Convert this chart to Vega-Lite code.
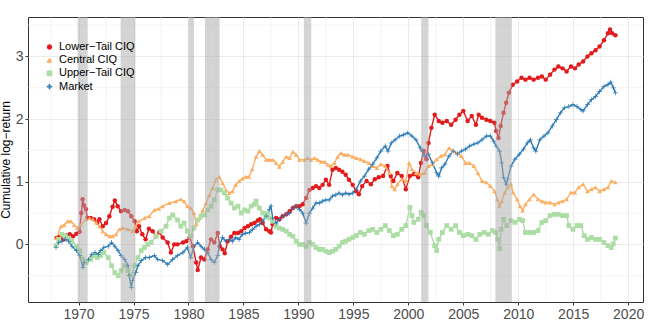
{
"$schema":"https://vega.github.io/schema/vega-lite/v6.json",
"width":615,"height":285,"autosize":"none",
"padding":{"left":28,"top":17,"right":5,"bottom":22},
"background":"white",
"config":{"view":{"stroke":"#333333","strokeWidth":1},"font":"Liberation Sans",
"axis":{"domain":false,"gridColor":"#ebebeb","gridWidth":1,"tickColor":"#333333","tickSize":3,"labelColor":"#4d4d4d","labelFontSize":14,"labelPadding":2,"titleFontWeight":"normal","titleColor":"#000000","titleFontSize":12,"titlePadding":3},
"legend":{"orient":"none","legendX":16,"legendY":24.5,"labelFontSize":11,"labelColor":"#000000","symbolSize":25,"rowPadding":1.2,"labelOffset":4,"symbolOffset":0,"padding":0,"symbolStrokeWidth":1}},
"datasets":{
"gx":[{"g":1967.5},{"g":1972.5},{"g":1977.5},{"g":1982.5},{"g":1987.5},{"g":1992.5},{"g":1997.5},{"g":2002.5},{"g":2007.5},{"g":2012.5},{"g":2017.5}],
"gy":[{"g":-0.5},{"g":0.5},{"g":1.5},{"g":2.5},{"g":3.5}],
"r":[{"a":1969.92,"b":1970.83},{"a":1973.83,"b":1975.17},{"a":1980.0,"b":1980.5},{"a":1981.5,"b":1982.83},{"a":1990.5,"b":1991.17},{"a":2001.17,"b":2001.83},{"a":2007.92,"b":2009.42}],
"s":[
{"t":1968.0,"k":"L","v":0.10},{"t":1968.3,"k":"L","v":0.12},{"t":1968.6,"k":"L","v":0.08},{"t":1968.9,"k":"L","v":0.14},{"t":1969.2,"k":"L","v":0.16},{"t":1969.5,"k":"L","v":0.13},{"t":1969.8,"k":"L","v":0.17},{"t":1970.1,"k":"L","v":0.2},{"t":1970.25,"k":"L","v":0.5},{"t":1970.37,"k":"L","v":0.72},{"t":1970.5,"k":"L","v":0.62},{"t":1970.67,"k":"L","v":0.56},{"t":1970.8,"k":"L","v":0.42},{"t":1971.1,"k":"L","v":0.42},{"t":1971.4,"k":"L","v":0.40},{"t":1971.7,"k":"L","v":0.35},{"t":1971.9,"k":"L","v":0.40},{"t":1972.2,"k":"L","v":0.29},{"t":1972.5,"k":"L","v":0.34},{"t":1972.8,"k":"L","v":0.45},{"t":1973.1,"k":"L","v":0.60},{"t":1973.3,"k":"L","v":0.70},{"t":1973.56,"k":"L","v":0.61},{"t":1973.87,"k":"L","v":0.53},{"t":1974.2,"k":"L","v":0.55},{"t":1974.5,"k":"L","v":0.53},{"t":1974.8,"k":"L","v":0.45},{"t":1975.1,"k":"L","v":0.37},{"t":1975.3,"k":"L","v":0.21},{"t":1975.5,"k":"L","v":0.29},{"t":1975.8,"k":"L","v":0.16},{"t":1976.1,"k":"L","v":0.08},{"t":1976.4,"k":"L","v":0.25},{"t":1976.74,"k":"L","v":0.21},{"t":1977.05,"k":"L","v":0.13},{"t":1977.35,"k":"L","v":0.19},{"t":1977.65,"k":"L","v":0.11},{"t":1978.1,"k":"L","v":0.03},{"t":1978.4,"k":"L","v":-0.13},{"t":1978.7,"k":"L","v":0.0},{"t":1979.0,"k":"L","v":0.0},{"t":1979.5,"k":"L","v":0.03},{"t":1979.8,"k":"L","v":0.05},{"t":1980.1,"k":"L","v":0.11},{"t":1980.4,"k":"L","v":-0.03},{"t":1980.7,"k":"L","v":-0.29},{"t":1980.84,"k":"L","v":-0.41},{"t":1981.14,"k":"L","v":-0.21},{"t":1981.45,"k":"L","v":-0.24},{"t":1981.75,"k":"L","v":-0.08},{"t":1982.05,"k":"L","v":0.08},{"t":1982.35,"k":"L","v":0.03},{"t":1982.66,"k":"L","v":0.18},{"t":1982.85,"k":"L","v":-0.03},{"t":1983.1,"k":"L","v":-0.08},{"t":1983.3,"k":"L","v":-0.14},{"t":1983.57,"k":"L","v":0.05},{"t":1983.87,"k":"L","v":0.12},{"t":1984.17,"k":"L","v":0.18},{"t":1984.5,"k":"L","v":0.18},{"t":1984.8,"k":"L","v":0.21},{"t":1985.1,"k":"L","v":0.26},{"t":1985.4,"k":"L","v":0.29},{"t":1985.7,"k":"L","v":0.32},{"t":1986.0,"k":"L","v":0.34},{"t":1986.3,"k":"L","v":0.38},{"t":1986.5,"k":"L","v":0.40},{"t":1986.75,"k":"L","v":0.34},{"t":1987.06,"k":"L","v":0.24},{"t":1987.36,"k":"L","v":0.21},{"t":1987.5,"k":"L","v":0.19},{"t":1987.66,"k":"L","v":0.32},{"t":1987.97,"k":"L","v":0.42},{"t":1988.27,"k":"L","v":0.40},{"t":1988.57,"k":"L","v":0.45},{"t":1988.9,"k":"L","v":0.48},{"t":1989.2,"k":"L","v":0.53},{"t":1989.5,"k":"L","v":0.58},{"t":1989.8,"k":"L","v":0.61},{"t":1990.1,"k":"L","v":0.61},{"t":1990.4,"k":"L","v":0.64},{"t":1990.7,"k":"L","v":0.74},{"t":1991.0,"k":"L","v":0.87},{"t":1991.3,"k":"L","v":0.90},{"t":1991.6,"k":"L","v":0.93},{"t":1991.9,"k":"L","v":0.90},{"t":1992.2,"k":"L","v":0.95},{"t":1992.5,"k":"L","v":1.03},{"t":1992.8,"k":"L","v":0.95},{"t":1993.1,"k":"L","v":1.19},{"t":1993.4,"k":"L","v":1.22},{"t":1993.7,"k":"L","v":1.19},{"t":1994.0,"k":"L","v":1.16},{"t":1994.3,"k":"L","v":1.11},{"t":1994.6,"k":"L","v":1.03},{"t":1994.94,"k":"L","v":0.95},{"t":1995.26,"k":"L","v":0.85},{"t":1995.5,"k":"L","v":0.80},{"t":1995.8,"k":"L","v":0.93},{"t":1996.2,"k":"L","v":1.01},{"t":1996.6,"k":"L","v":0.96},{"t":1996.95,"k":"L","v":1.04},{"t":1997.3,"k":"L","v":1.07},{"t":1997.7,"k":"L","v":1.09},{"t":1998.1,"k":"L","v":1.25},{"t":1998.4,"k":"L","v":1.09},{"t":1998.64,"k":"L","v":1.01},{"t":1999.0,"k":"L","v":1.14},{"t":1999.4,"k":"L","v":1.09},{"t":1999.77,"k":"L","v":0.88},{"t":2000.14,"k":"L","v":1.09},{"t":2000.5,"k":"L","v":1.12},{"t":2000.9,"k":"L","v":1.07},{"t":2001.16,"k":"L","v":1.30},{"t":2001.4,"k":"L","v":1.49},{"t":2001.65,"k":"L","v":1.36},{"t":2001.83,"k":"L","v":1.62},{"t":2002.1,"k":"L","v":1.86},{"t":2002.4,"k":"L","v":2.07},{"t":2002.77,"k":"L","v":1.97},{"t":2003.1,"k":"L","v":1.94},{"t":2003.5,"k":"L","v":1.97},{"t":2003.9,"k":"L","v":1.91},{"t":2004.3,"k":"L","v":1.99},{"t":2004.65,"k":"L","v":2.07},{"t":2005.0,"k":"L","v":2.13},{"t":2005.4,"k":"L","v":1.97},{"t":2005.77,"k":"L","v":2.05},{"t":2006.15,"k":"L","v":1.91},{"t":2006.4,"k":"L","v":2.07},{"t":2006.7,"k":"L","v":2.02},{"t":2007.1,"k":"L","v":1.99},{"t":2007.46,"k":"L","v":1.97},{"t":2007.84,"k":"L","v":1.94},{"t":2008.0,"k":"L","v":1.81},{"t":2008.2,"k":"L","v":1.70},{"t":2008.4,"k":"L","v":1.89},{"t":2008.66,"k":"L","v":2.10},{"t":2008.9,"k":"L","v":2.26},{"t":2009.15,"k":"L","v":2.42},{"t":2009.5,"k":"L","v":2.55},{"t":2009.9,"k":"L","v":2.60},{"t":2010.3,"k":"L","v":2.66},{"t":2010.65,"k":"L","v":2.63},{"t":2011.03,"k":"L","v":2.66},{"t":2011.4,"k":"L","v":2.63},{"t":2011.8,"k":"L","v":2.66},{"t":2012.15,"k":"L","v":2.68},{"t":2012.5,"k":"L","v":2.63},{"t":2012.9,"k":"L","v":2.71},{"t":2013.3,"k":"L","v":2.79},{"t":2013.65,"k":"L","v":2.84},{"t":2014.03,"k":"L","v":2.81},{"t":2014.4,"k":"L","v":2.76},{"t":2014.8,"k":"L","v":2.84},{"t":2015.16,"k":"L","v":2.81},{"t":2015.5,"k":"L","v":2.87},{"t":2015.9,"k":"L","v":2.92},{"t":2016.3,"k":"L","v":3.00},{"t":2016.66,"k":"L","v":3.05},{"t":2017.03,"k":"L","v":3.10},{"t":2017.4,"k":"L","v":3.16},{"t":2017.8,"k":"L","v":3.26},{"t":2018.16,"k":"L","v":3.37},{"t":2018.35,"k":"L","v":3.43},{"t":2018.54,"k":"L","v":3.37},{"t":2018.84,"k":"L","v":3.34},
{"t":1968.0,"k":"C","v":0.10},{"t":1968.4,"k":"C","v":0.29},{"t":1968.7,"k":"C","v":0.31},{"t":1969.0,"k":"C","v":0.37},{"t":1969.3,"k":"C","v":0.37},{"t":1969.6,"k":"C","v":0.31},{"t":1969.9,"k":"C","v":0.26},{"t":1970.2,"k":"C","v":0.31},{"t":1970.67,"k":"C","v":0.40},{"t":1971.0,"k":"C","v":0.42},{"t":1971.3,"k":"C","v":0.40},{"t":1971.6,"k":"C","v":0.35},{"t":1971.9,"k":"C","v":0.29},{"t":1972.2,"k":"C","v":0.21},{"t":1972.5,"k":"C","v":0.16},{"t":1972.8,"k":"C","v":0.13},{"t":1973.1,"k":"C","v":0.13},{"t":1973.4,"k":"C","v":0.16},{"t":1973.7,"k":"C","v":0.24},{"t":1974.0,"k":"C","v":0.26},{"t":1974.5,"k":"C","v":0.24},{"t":1974.9,"k":"C","v":0.21},{"t":1975.2,"k":"C","v":0.29},{"t":1975.5,"k":"C","v":0.37},{"t":1976.0,"k":"C","v":0.42},{"t":1976.44,"k":"C","v":0.45},{"t":1976.9,"k":"C","v":0.55},{"t":1977.3,"k":"C","v":0.57},{"t":1977.65,"k":"C","v":0.61},{"t":1978.26,"k":"C","v":0.66},{"t":1978.87,"k":"C","v":0.69},{"t":1979.3,"k":"C","v":0.72},{"t":1979.6,"k":"C","v":0.69},{"t":1979.9,"k":"C","v":0.61},{"t":1980.2,"k":"C","v":0.58},{"t":1980.5,"k":"C","v":0.50},{"t":1980.7,"k":"C","v":0.32},{"t":1981.0,"k":"C","v":0.42},{"t":1981.3,"k":"C","v":0.55},{"t":1981.6,"k":"C","v":0.66},{"t":1981.9,"k":"C","v":0.79},{"t":1982.2,"k":"C","v":0.90},{"t":1982.5,"k":"C","v":1.03},{"t":1982.8,"k":"C","v":1.08},{"t":1983.1,"k":"C","v":0.98},{"t":1983.4,"k":"C","v":0.87},{"t":1983.7,"k":"C","v":0.82},{"t":1984.0,"k":"C","v":0.85},{"t":1984.3,"k":"C","v":0.95},{"t":1984.6,"k":"C","v":1.01},{"t":1984.9,"k":"C","v":1.05},{"t":1985.2,"k":"C","v":1.08},{"t":1985.5,"k":"C","v":1.08},{"t":1985.8,"k":"C","v":1.20},{"t":1986.15,"k":"C","v":1.40},{"t":1986.45,"k":"C","v":1.49},{"t":1986.75,"k":"C","v":1.43},{"t":1987.06,"k":"C","v":1.35},{"t":1987.36,"k":"C","v":1.35},{"t":1987.66,"k":"C","v":1.35},{"t":1987.97,"k":"C","v":1.30},{"t":1988.27,"k":"C","v":1.24},{"t":1988.57,"k":"C","v":1.32},{"t":1988.9,"k":"C","v":1.40},{"t":1989.2,"k":"C","v":1.38},{"t":1989.5,"k":"C","v":1.48},{"t":1989.8,"k":"C","v":1.43},{"t":1990.1,"k":"C","v":1.35},{"t":1990.55,"k":"C","v":1.35},{"t":1990.85,"k":"C","v":1.38},{"t":1991.15,"k":"C","v":1.35},{"t":1991.45,"k":"C","v":1.38},{"t":1991.76,"k":"C","v":1.35},{"t":1992.06,"k":"C","v":1.32},{"t":1992.4,"k":"C","v":1.32},{"t":1992.67,"k":"C","v":1.27},{"t":1992.97,"k":"C","v":1.25},{"t":1993.27,"k":"C","v":1.30},{"t":1993.57,"k":"C","v":1.40},{"t":1993.88,"k":"C","v":1.46},{"t":1994.18,"k":"C","v":1.43},{"t":1994.5,"k":"C","v":1.43},{"t":1994.94,"k":"C","v":1.40},{"t":1995.26,"k":"C","v":1.38},{"t":1995.64,"k":"C","v":1.36},{"t":1996.0,"k":"C","v":1.33},{"t":1996.4,"k":"C","v":1.30},{"t":1996.76,"k":"C","v":1.25},{"t":1997.14,"k":"C","v":1.22},{"t":1997.5,"k":"C","v":1.28},{"t":1997.9,"k":"C","v":1.25},{"t":1998.27,"k":"C","v":1.14},{"t":1998.5,"k":"C","v":0.93},{"t":1998.75,"k":"C","v":0.88},{"t":1999.0,"k":"C","v":0.96},{"t":1999.4,"k":"C","v":1.04},{"t":1999.77,"k":"C","v":1.01},{"t":2000.07,"k":"C","v":1.30},{"t":2000.33,"k":"C","v":1.20},{"t":2000.7,"k":"C","v":1.14},{"t":2001.08,"k":"C","v":1.12},{"t":2001.46,"k":"C","v":1.14},{"t":2001.83,"k":"C","v":1.25},{"t":2002.2,"k":"C","v":1.28},{"t":2002.58,"k":"C","v":1.36},{"t":2002.96,"k":"C","v":1.41},{"t":2003.33,"k":"C","v":1.44},{"t":2003.7,"k":"C","v":1.54},{"t":2004.08,"k":"C","v":1.49},{"t":2004.46,"k":"C","v":1.46},{"t":2004.83,"k":"C","v":1.41},{"t":2005.2,"k":"C","v":1.30},{"t":2005.58,"k":"C","v":1.30},{"t":2005.96,"k":"C","v":1.25},{"t":2006.33,"k":"C","v":1.14},{"t":2006.7,"k":"C","v":1.01},{"t":2007.1,"k":"C","v":0.99},{"t":2007.46,"k":"C","v":0.93},{"t":2007.84,"k":"C","v":0.85},{"t":2008.1,"k":"C","v":0.72},{"t":2008.3,"k":"C","v":0.61},{"t":2008.5,"k":"C","v":0.69},{"t":2008.78,"k":"C","v":0.83},{"t":2009.04,"k":"C","v":0.91},{"t":2009.34,"k":"C","v":0.96},{"t":2009.53,"k":"C","v":0.83},{"t":2009.9,"k":"C","v":0.72},{"t":2010.17,"k":"C","v":0.61},{"t":2010.4,"k":"C","v":0.54},{"t":2010.65,"k":"C","v":0.64},{"t":2011.03,"k":"C","v":0.72},{"t":2011.4,"k":"C","v":0.80},{"t":2011.8,"k":"C","v":0.72},{"t":2012.15,"k":"C","v":0.69},{"t":2012.5,"k":"C","v":0.67},{"t":2012.9,"k":"C","v":0.67},{"t":2013.3,"k":"C","v":0.64},{"t":2013.65,"k":"C","v":0.67},{"t":2014.03,"k":"C","v":0.69},{"t":2014.4,"k":"C","v":0.72},{"t":2014.8,"k":"C","v":0.83},{"t":2015.16,"k":"C","v":0.83},{"t":2015.5,"k":"C","v":0.91},{"t":2015.9,"k":"C","v":0.96},{"t":2016.3,"k":"C","v":0.85},{"t":2016.66,"k":"C","v":0.88},{"t":2017.03,"k":"C","v":0.91},{"t":2017.4,"k":"C","v":0.85},{"t":2017.8,"k":"C","v":0.88},{"t":2018.16,"k":"C","v":0.91},{"t":2018.46,"k":"C","v":1.01},{"t":2018.84,"k":"C","v":0.99},
{"t":1967.95,"k":"U","v":-0.02},{"t":1968.2,"k":"U","v":0.08},{"t":1968.5,"k":"U","v":0.16},{"t":1968.8,"k":"U","v":0.13},{"t":1969.1,"k":"U","v":0.10},{"t":1969.4,"k":"U","v":0.05},{"t":1969.8,"k":"U","v":-0.03},{"t":1970.1,"k":"U","v":-0.10},{"t":1970.4,"k":"U","v":-0.24},{"t":1970.7,"k":"U","v":-0.29},{"t":1971.1,"k":"U","v":-0.24},{"t":1971.4,"k":"U","v":-0.18},{"t":1971.7,"k":"U","v":-0.21},{"t":1972.0,"k":"U","v":-0.18},{"t":1972.3,"k":"U","v":-0.13},{"t":1972.7,"k":"U","v":-0.21},{"t":1973.0,"k":"U","v":-0.34},{"t":1973.3,"k":"U","v":-0.45},{"t":1973.6,"k":"U","v":-0.50},{"t":1973.87,"k":"U","v":-0.42},{"t":1974.2,"k":"U","v":-0.34},{"t":1974.5,"k":"U","v":-0.42},{"t":1974.8,"k":"U","v":-0.50},{"t":1975.1,"k":"U","v":-0.34},{"t":1975.4,"k":"U","v":-0.21},{"t":1975.7,"k":"U","v":-0.10},{"t":1976.0,"k":"U","v":-0.05},{"t":1976.3,"k":"U","v":0.0},{"t":1976.6,"k":"U","v":0.03},{"t":1977.05,"k":"U","v":0.13},{"t":1977.5,"k":"U","v":0.21},{"t":1977.96,"k":"U","v":0.29},{"t":1978.26,"k":"U","v":0.42},{"t":1978.56,"k":"U","v":0.47},{"t":1979.0,"k":"U","v":0.39},{"t":1979.3,"k":"U","v":0.29},{"t":1979.6,"k":"U","v":0.34},{"t":1979.9,"k":"U","v":0.21},{"t":1980.2,"k":"U","v":0.13},{"t":1980.5,"k":"U","v":0.26},{"t":1980.84,"k":"U","v":0.39},{"t":1981.14,"k":"U","v":0.45},{"t":1981.45,"k":"U","v":0.47},{"t":1981.75,"k":"U","v":0.55},{"t":1982.05,"k":"U","v":0.61},{"t":1982.35,"k":"U","v":0.71},{"t":1982.66,"k":"U","v":0.87},{"t":1982.96,"k":"U","v":0.87},{"t":1983.26,"k":"U","v":0.82},{"t":1983.57,"k":"U","v":0.74},{"t":1983.87,"k":"U","v":0.66},{"t":1984.17,"k":"U","v":0.58},{"t":1984.5,"k":"U","v":0.61},{"t":1984.8,"k":"U","v":0.50},{"t":1985.1,"k":"U","v":0.55},{"t":1985.4,"k":"U","v":0.53},{"t":1985.7,"k":"U","v":0.61},{"t":1986.0,"k":"U","v":0.64},{"t":1986.15,"k":"U","v":0.69},{"t":1986.45,"k":"U","v":0.58},{"t":1986.75,"k":"U","v":0.50},{"t":1987.06,"k":"U","v":0.45},{"t":1987.2,"k":"U","v":0.50},{"t":1987.36,"k":"U","v":0.42},{"t":1987.66,"k":"U","v":0.37},{"t":1987.97,"k":"U","v":0.29},{"t":1988.27,"k":"U","v":0.26},{"t":1988.57,"k":"U","v":0.24},{"t":1988.9,"k":"U","v":0.21},{"t":1989.2,"k":"U","v":0.16},{"t":1989.5,"k":"U","v":0.13},{"t":1989.8,"k":"U","v":0.05},{"t":1990.1,"k":"U","v":0.0},{"t":1990.4,"k":"U","v":0.0},{"t":1990.7,"k":"U","v":-0.03},{"t":1991.0,"k":"U","v":0.03},{"t":1991.3,"k":"U","v":0.0},{"t":1991.6,"k":"U","v":-0.05},{"t":1991.9,"k":"U","v":-0.08},{"t":1992.2,"k":"U","v":-0.08},{"t":1992.5,"k":"U","v":-0.11},{"t":1992.8,"k":"U","v":-0.13},{"t":1993.1,"k":"U","v":-0.11},{"t":1993.4,"k":"U","v":-0.08},{"t":1993.7,"k":"U","v":-0.03},{"t":1994.0,"k":"U","v":0.03},{"t":1994.3,"k":"U","v":0.05},{"t":1994.6,"k":"U","v":0.08},{"t":1994.94,"k":"U","v":0.11},{"t":1995.26,"k":"U","v":0.14},{"t":1995.64,"k":"U","v":0.19},{"t":1996.0,"k":"U","v":0.16},{"t":1996.4,"k":"U","v":0.22},{"t":1996.76,"k":"U","v":0.24},{"t":1997.14,"k":"U","v":0.19},{"t":1997.5,"k":"U","v":0.24},{"t":1997.9,"k":"U","v":0.30},{"t":1998.27,"k":"U","v":0.22},{"t":1998.64,"k":"U","v":0.14},{"t":1999.0,"k":"U","v":0.16},{"t":1999.4,"k":"U","v":0.24},{"t":1999.77,"k":"U","v":0.30},{"t":2000.14,"k":"U","v":0.59},{"t":2000.33,"k":"U","v":0.46},{"t":2000.5,"k":"U","v":0.35},{"t":2000.9,"k":"U","v":0.40},{"t":2001.16,"k":"U","v":0.51},{"t":2001.4,"k":"U","v":0.46},{"t":2001.65,"k":"U","v":0.30},{"t":2002.0,"k":"U","v":0.19},{"t":2002.4,"k":"U","v":-0.02},{"t":2002.58,"k":"U","v":-0.10},{"t":2002.77,"k":"U","v":0.08},{"t":2003.1,"k":"U","v":0.19},{"t":2003.5,"k":"U","v":0.30},{"t":2003.9,"k":"U","v":0.24},{"t":2004.3,"k":"U","v":0.30},{"t":2004.65,"k":"U","v":0.19},{"t":2005.0,"k":"U","v":0.14},{"t":2005.4,"k":"U","v":0.16},{"t":2005.77,"k":"U","v":0.14},{"t":2006.15,"k":"U","v":0.08},{"t":2006.5,"k":"U","v":0.16},{"t":2006.9,"k":"U","v":0.19},{"t":2007.27,"k":"U","v":0.16},{"t":2007.65,"k":"U","v":0.22},{"t":2007.95,"k":"U","v":0.19},{"t":2008.14,"k":"U","v":0.08},{"t":2008.3,"k":"U","v":-0.07},{"t":2008.44,"k":"U","v":0.24},{"t":2008.66,"k":"U","v":0.40},{"t":2008.96,"k":"U","v":0.30},{"t":2009.34,"k":"U","v":0.38},{"t":2009.7,"k":"U","v":0.35},{"t":2010.1,"k":"U","v":0.40},{"t":2010.4,"k":"U","v":0.38},{"t":2010.65,"k":"U","v":0.19},{"t":2011.03,"k":"U","v":0.19},{"t":2011.4,"k":"U","v":0.19},{"t":2011.8,"k":"U","v":0.22},{"t":2012.15,"k":"U","v":0.35},{"t":2012.5,"k":"U","v":0.38},{"t":2012.9,"k":"U","v":0.46},{"t":2013.3,"k":"U","v":0.48},{"t":2013.65,"k":"U","v":0.48},{"t":2014.03,"k":"U","v":0.46},{"t":2014.4,"k":"U","v":0.46},{"t":2014.6,"k":"U","v":0.30},{"t":2014.97,"k":"U","v":0.24},{"t":2015.34,"k":"U","v":0.30},{"t":2015.7,"k":"U","v":0.30},{"t":2016.0,"k":"U","v":0.14},{"t":2016.3,"k":"U","v":0.08},{"t":2016.66,"k":"U","v":0.11},{"t":2017.03,"k":"U","v":0.08},{"t":2017.4,"k":"U","v":0.08},{"t":2017.8,"k":"U","v":0.03},{"t":2018.16,"k":"U","v":-0.02},{"t":2018.46,"k":"U","v":-0.05},{"t":2018.65,"k":"U","v":0.01},{"t":2018.84,"k":"U","v":0.10},
{"t":1967.95,"k":"M","v":-0.05},{"t":1968.2,"k":"M","v":0.03},{"t":1968.5,"k":"M","v":0.05},{"t":1968.8,"k":"M","v":0.08},{"t":1969.1,"k":"M","v":0.05},{"t":1969.4,"k":"M","v":-0.03},{"t":1969.8,"k":"M","v":-0.10},{"t":1970.1,"k":"M","v":-0.18},{"t":1970.4,"k":"M","v":-0.37},{"t":1970.5,"k":"M","v":-0.29},{"t":1970.9,"k":"M","v":-0.24},{"t":1971.2,"k":"M","v":-0.16},{"t":1971.5,"k":"M","v":-0.13},{"t":1971.8,"k":"M","v":-0.16},{"t":1972.0,"k":"M","v":-0.10},{"t":1972.3,"k":"M","v":-0.05},{"t":1972.7,"k":"M","v":-0.03},{"t":1973.0,"k":"M","v":0.03},{"t":1973.3,"k":"M","v":-0.03},{"t":1973.6,"k":"M","v":-0.10},{"t":1973.87,"k":"M","v":-0.18},{"t":1974.2,"k":"M","v":-0.24},{"t":1974.5,"k":"M","v":-0.34},{"t":1974.6,"k":"M","v":-0.50},{"t":1974.8,"k":"M","v":-0.69},{"t":1974.9,"k":"M","v":-0.58},{"t":1975.2,"k":"M","v":-0.45},{"t":1975.4,"k":"M","v":-0.34},{"t":1975.7,"k":"M","v":-0.26},{"t":1976.1,"k":"M","v":-0.21},{"t":1976.44,"k":"M","v":-0.21},{"t":1976.9,"k":"M","v":-0.18},{"t":1977.2,"k":"M","v":-0.24},{"t":1977.65,"k":"M","v":-0.26},{"t":1978.1,"k":"M","v":-0.32},{"t":1978.56,"k":"M","v":-0.24},{"t":1979.0,"k":"M","v":-0.18},{"t":1979.5,"k":"M","v":-0.13},{"t":1979.9,"k":"M","v":-0.05},{"t":1980.2,"k":"M","v":-0.21},{"t":1980.5,"k":"M","v":-0.03},{"t":1980.84,"k":"M","v":0.03},{"t":1981.14,"k":"M","v":-0.03},{"t":1981.45,"k":"M","v":-0.08},{"t":1981.75,"k":"M","v":-0.13},{"t":1982.05,"k":"M","v":-0.24},{"t":1982.35,"k":"M","v":-0.29},{"t":1982.66,"k":"M","v":-0.18},{"t":1982.81,"k":"M","v":-0.03},{"t":1983.1,"k":"M","v":0.11},{"t":1983.4,"k":"M","v":0.05},{"t":1983.7,"k":"M","v":0.08},{"t":1984.0,"k":"M","v":0.05},{"t":1984.3,"k":"M","v":0.11},{"t":1984.6,"k":"M","v":0.08},{"t":1984.9,"k":"M","v":0.16},{"t":1985.2,"k":"M","v":0.18},{"t":1985.54,"k":"M","v":0.19},{"t":1985.84,"k":"M","v":0.24},{"t":1986.15,"k":"M","v":0.29},{"t":1986.45,"k":"M","v":0.32},{"t":1986.75,"k":"M","v":0.37},{"t":1987.06,"k":"M","v":0.45},{"t":1987.36,"k":"M","v":0.56},{"t":1987.5,"k":"M","v":0.61},{"t":1987.66,"k":"M","v":0.42},{"t":1987.97,"k":"M","v":0.34},{"t":1988.27,"k":"M","v":0.40},{"t":1988.57,"k":"M","v":0.45},{"t":1988.9,"k":"M","v":0.48},{"t":1989.2,"k":"M","v":0.50},{"t":1989.5,"k":"M","v":0.58},{"t":1989.8,"k":"M","v":0.61},{"t":1990.1,"k":"M","v":0.56},{"t":1990.4,"k":"M","v":0.50},{"t":1990.7,"k":"M","v":0.34},{"t":1991.0,"k":"M","v":0.50},{"t":1991.3,"k":"M","v":0.58},{"t":1991.6,"k":"M","v":0.66},{"t":1991.9,"k":"M","v":0.66},{"t":1992.2,"k":"M","v":0.69},{"t":1992.5,"k":"M","v":0.71},{"t":1992.8,"k":"M","v":0.71},{"t":1993.1,"k":"M","v":0.77},{"t":1993.4,"k":"M","v":0.79},{"t":1993.7,"k":"M","v":0.82},{"t":1994.0,"k":"M","v":0.79},{"t":1994.3,"k":"M","v":0.82},{"t":1994.6,"k":"M","v":0.80},{"t":1994.94,"k":"M","v":0.82},{"t":1995.26,"k":"M","v":0.88},{"t":1995.64,"k":"M","v":1.01},{"t":1996.0,"k":"M","v":1.09},{"t":1996.4,"k":"M","v":1.20},{"t":1996.76,"k":"M","v":1.28},{"t":1997.14,"k":"M","v":1.38},{"t":1997.5,"k":"M","v":1.49},{"t":1997.9,"k":"M","v":1.57},{"t":1998.15,"k":"M","v":1.49},{"t":1998.45,"k":"M","v":1.62},{"t":1998.8,"k":"M","v":1.67},{"t":1999.2,"k":"M","v":1.73},{"t":1999.58,"k":"M","v":1.75},{"t":1999.95,"k":"M","v":1.78},{"t":2000.33,"k":"M","v":1.73},{"t":2000.7,"k":"M","v":1.67},{"t":2001.08,"k":"M","v":1.54},{"t":2001.27,"k":"M","v":1.49},{"t":2001.46,"k":"M","v":1.41},{"t":2001.83,"k":"M","v":1.44},{"t":2002.2,"k":"M","v":1.30},{"t":2002.58,"k":"M","v":1.14},{"t":2002.77,"k":"M","v":1.09},{"t":2003.03,"k":"M","v":1.22},{"t":2003.33,"k":"M","v":1.28},{"t":2003.7,"k":"M","v":1.41},{"t":2004.08,"k":"M","v":1.49},{"t":2004.46,"k":"M","v":1.44},{"t":2004.83,"k":"M","v":1.49},{"t":2005.2,"k":"M","v":1.52},{"t":2005.58,"k":"M","v":1.57},{"t":2005.96,"k":"M","v":1.60},{"t":2006.33,"k":"M","v":1.62},{"t":2006.7,"k":"M","v":1.67},{"t":2007.1,"k":"M","v":1.73},{"t":2007.46,"k":"M","v":1.73},{"t":2007.76,"k":"M","v":1.65},{"t":2008.0,"k":"M","v":1.57},{"t":2008.3,"k":"M","v":1.49},{"t":2008.5,"k":"M","v":1.30},{"t":2008.66,"k":"M","v":1.07},{"t":2008.9,"k":"M","v":0.96},{"t":2009.04,"k":"M","v":1.04},{"t":2009.34,"k":"M","v":1.25},{"t":2009.7,"k":"M","v":1.36},{"t":2010.1,"k":"M","v":1.44},{"t":2010.47,"k":"M","v":1.52},{"t":2010.84,"k":"M","v":1.62},{"t":2011.1,"k":"M","v":1.67},{"t":2011.4,"k":"M","v":1.54},{"t":2011.6,"k":"M","v":1.49},{"t":2011.97,"k":"M","v":1.67},{"t":2012.34,"k":"M","v":1.73},{"t":2012.7,"k":"M","v":1.78},{"t":2013.1,"k":"M","v":1.89},{"t":2013.47,"k":"M","v":1.99},{"t":2013.84,"k":"M","v":2.10},{"t":2014.2,"k":"M","v":2.18},{"t":2014.6,"k":"M","v":2.20},{"t":2014.97,"k":"M","v":2.23},{"t":2015.34,"k":"M","v":2.20},{"t":2015.7,"k":"M","v":2.15},{"t":2015.9,"k":"M","v":2.13},{"t":2016.3,"k":"M","v":2.23},{"t":2016.66,"k":"M","v":2.31},{"t":2017.03,"k":"M","v":2.36},{"t":2017.4,"k":"M","v":2.44},{"t":2017.8,"k":"M","v":2.52},{"t":2018.16,"k":"M","v":2.55},{"t":2018.42,"k":"M","v":2.59},{"t":2018.65,"k":"M","v":2.50},{"t":2018.84,"k":"M","v":2.42}
]},
"layer":[
{"data":{"name":"gx"},"mark":{"type":"rule","color":"#ebebeb","strokeWidth":0.6},
"encoding":{"x":{"field":"g","type":"quantitative","title":null,"scale":{"domain":[1965.4,2021.35],"nice":false,"zero":false},
"axis":{"values":[1970,1975,1980,1985,1990,1995,2000,2005,2010,2015,2020],"format":"d"}}}},
{"data":{"name":"gy"},"mark":{"type":"rule","color":"#ebebeb","strokeWidth":0.6},
"encoding":{"y":{"field":"g","type":"quantitative","title":"Cumulative log−return","scale":{"domain":[-0.92,3.63],"nice":false,"zero":false},
"axis":{"values":[0,1,2,3],"format":"d"}}}},
{"data":{"name":"s"},"mark":{"type":"line","strokeWidth":1.4},
"encoding":{
"x":{"field":"t","type":"quantitative","title":null},
"y":{"field":"v","type":"quantitative","title":"Cumulative log−return"},
"color":{"field":"k","type":"nominal","scale":{"domain":["L","C","U","M"],"range":["#e31a1c","#fdae61","#abdda4","#2c7bb6"]},"legend":{"title":null,"labelExpr":"datum.label == 'L' ? 'Lower−Tail CIQ' : datum.label == 'C' ? 'Central CIQ' : datum.label == 'U' ? 'Upper−Tail CIQ' : 'Market'"}}}},
{"data":{"name":"s"},"mark":{"type":"point","filled":true,"opacity":1},
"encoding":{
"x":{"field":"t","type":"quantitative","title":null},
"y":{"field":"v","type":"quantitative","title":"Cumulative log−return"},
"size":{"field":"k","type":"nominal","scale":{"domain":["L","C","U","M"],"range":[20,24,16,44]},"legend":null},
"color":{"field":"k","type":"nominal","legend":{"title":null,"labelExpr":"datum.label == 'L' ? 'Lower−Tail CIQ' : datum.label == 'C' ? 'Central CIQ' : datum.label == 'U' ? 'Upper−Tail CIQ' : 'Market'"}},
"shape":{"field":"k","type":"nominal","scale":{"domain":["L","C","U","M"],"range":["circle","triangle-up","square","M-1,-0.15H1V0.15H-1ZM-0.15,-1H0.15V1H-0.15Z"]},"legend":{"title":null,"labelExpr":"datum.label == 'L' ? 'Lower−Tail CIQ' : datum.label == 'C' ? 'Central CIQ' : datum.label == 'U' ? 'Upper−Tail CIQ' : 'Market'"}}}},
{"data":{"name":"r"},"mark":{"type":"rect","color":"#a9a9a9","opacity":0.5},
"encoding":{"x":{"field":"a","type":"quantitative","title":null},"x2":{"field":"b"}}}
]
}
